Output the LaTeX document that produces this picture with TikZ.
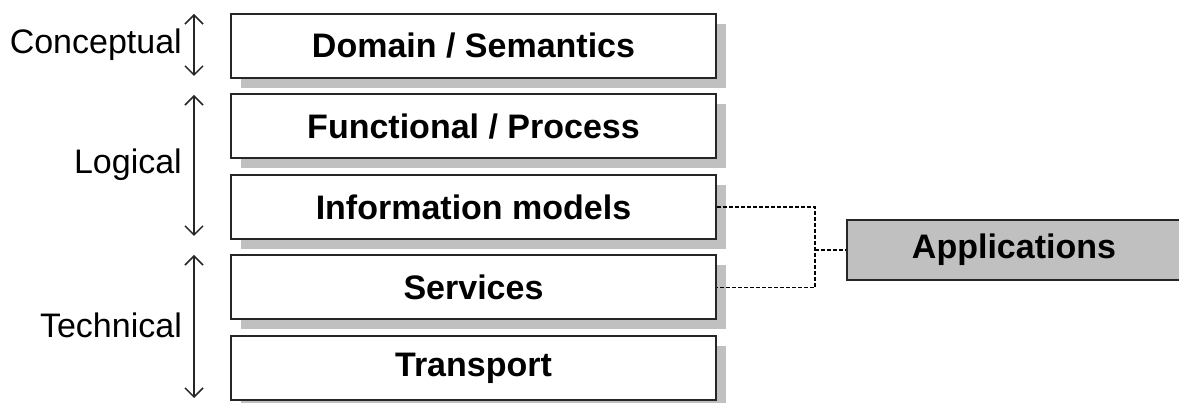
\documentclass[tikz,border=0pt]{standalone}
\usepackage{fontspec}
\setmainfont{Liberation Sans}
\usetikzlibrary{arrows.meta,shadows}
\definecolor{shadowgray}{HTML}{C0C0C0}
\definecolor{linegray}{HTML}{262626}
\tikzset{
  layerbox/.style={draw=linegray, line width=2pt, fill=white, minimum width=485pt, minimum height=64pt,
    inner sep=0pt, font=\fontsize{34}{40}\selectfont\bfseries,
    drop shadow={shadow xshift=10pt, shadow yshift=-10pt, opacity=1, fill=shadowgray}},
  appbox/.style={draw=linegray, line width=2pt, fill=shadowgray, minimum width=360pt, minimum height=60pt,
    inner sep=0pt, font=\fontsize{34}{40}\selectfont\bfseries},
  levellabel/.style={anchor=east, inner sep=0pt, font=\fontsize{34}{40}\selectfont},
  levelarrow/.style={draw=linegray, line width=1.5pt, {Straight Barb[length=9pt,width=18pt]}-{Straight Barb[length=9pt,width=18pt]}},
  link/.style={draw=black, line width=1.5pt, dash pattern=on 4pt off 2pt}
}
\begin{document}
\begin{tikzpicture}[x=1pt,y=-1pt]
\useasboundingbox (0,0) rectangle (1179,403);
\clip (0,0) rectangle (1179,403);
\node[layerbox] (dom) at (473.5,46) {Domain / Semantics};
\node[layerbox] (fun) at (473.5,126.5) {Functional / Process};
\node[layerbox] (inf) at (473.5,207) {Information models};
\node[layerbox] (ser) at (473.5,287.5) {Services};
\node[layerbox] (tra) at (473.5,368.5) {Transport};
\node[appbox, anchor=west] (app) at (846,250) {\hspace*{-26pt}Applications};
\coordinate (c1) at (815,207);
\coordinate (c2) at (815,287.5);
\coordinate (c3) at (815,250);
\draw[link] (inf.east) -- (c1) -- (c2) -- (ser.east);
\draw[link] (c3) -- (app.west);
\coordinate (a1t) at (194,14);
\coordinate (a1b) at (194,76);
\coordinate (a2t) at (194,95);
\coordinate (a2b) at (194,236);
\coordinate (a3t) at (194,255);
\coordinate (a3b) at (194,398);
\draw[levelarrow] (a1t) -- (a1b);
\draw[levelarrow] (a2t) -- (a2b);
\draw[levelarrow] (a3t) -- (a3b);
\node[levellabel] (lc) at (182,45) {Conceptual};
\node[levellabel] (ll) at (182,165) {Logical};
\node[levellabel] (lt) at (182,325) {Technical};
\end{tikzpicture}
\end{document}
